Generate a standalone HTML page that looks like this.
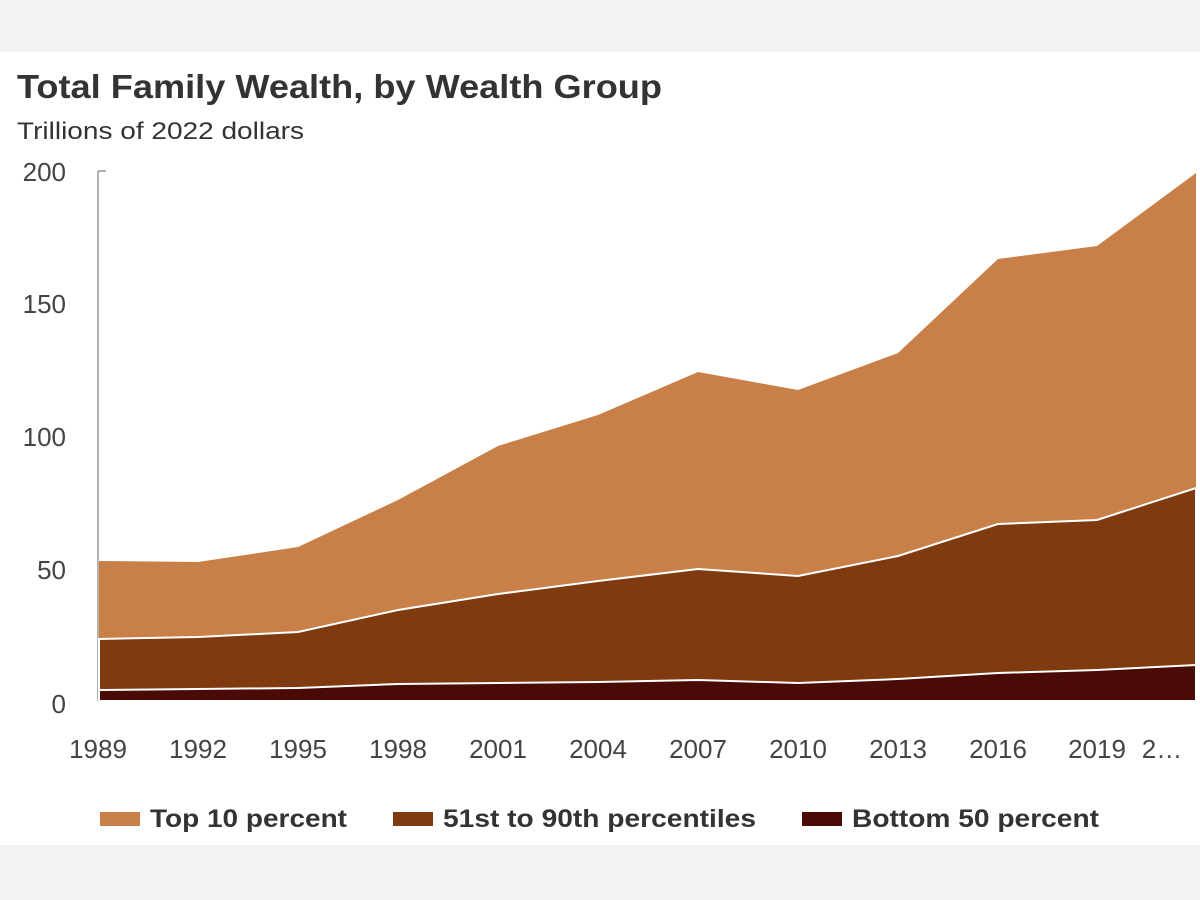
<!DOCTYPE html>
<html><head><meta charset="utf-8"><style>
html,body{margin:0;padding:0;background:#f2f2f2;}
svg{display:block;}
</style></head><body>
<svg width="1200" height="900" viewBox="0 0 1200 900" xmlns="http://www.w3.org/2000/svg" font-family="Liberation Sans, Arial, sans-serif">
<rect x="0" y="0" width="1200" height="900" fill="#f2f2f2"/>
<rect x="0" y="52" width="1200" height="793" fill="#ffffff"/>
<text x="17" y="98" font-size="33" font-weight="bold" fill="#333" textLength="645" lengthAdjust="spacingAndGlyphs">Total Family Wealth, by Wealth Group</text>
<text x="17" y="139" font-size="24" fill="#333" textLength="287" lengthAdjust="spacingAndGlyphs">Trillions of 2022 dollars</text>
<g font-size="26" fill="#444" text-anchor="end">
<text x="66" y="181">200</text>
<text x="66" y="313">150</text>
<text x="66" y="446">100</text>
<text x="66" y="579">50</text>
<text x="66" y="713">0</text>
</g>
<line x1="98" y1="171" x2="98" y2="701" stroke="#999" stroke-width="1.5"/>
<line x1="98" y1="171" x2="106" y2="171" stroke="#999" stroke-width="1.5"/>
<polygon fill="#c97f48" points="99,561 198,562 298,547 398,500 498,446 598,415 698,372 798,390 898,353 998,259 1097,246 1196,173 1196,701 99,701"/>
<polygon fill="#7f3a10" stroke="#fff" stroke-width="2" points="99,639 198,637 298,632 398,610 498,594 598,581 698,569 798,576 898,556 998,524 1097,520 1196,488 1196,701 99,701"/>
<polygon fill="#4a0a05" stroke="#fff" stroke-width="2" points="99,690 198,689 298,688 398,684 498,683 598,682 698,680 798,683 898,679 998,673 1097,670 1196,665 1196,701 99,701"/>
<rect x="99" y="701" width="1100" height="4" fill="#fff"/>
<g font-size="26" fill="#444" text-anchor="middle">
<text x="98" y="758">1989</text>
<text x="198" y="758">1992</text>
<text x="298" y="758">1995</text>
<text x="398" y="758">1998</text>
<text x="498" y="758">2001</text>
<text x="598" y="758">2004</text>
<text x="698" y="758">2007</text>
<text x="798" y="758">2010</text>
<text x="898" y="758">2013</text>
<text x="998" y="758">2016</text>
<text x="1097" y="758">2019</text>
<text x="1162" y="758">2…</text>
</g>
<rect x="100" y="812" width="40" height="14" fill="#c97f48"/>
<text x="150" y="827" font-size="25" font-weight="bold" fill="#333" textLength="197" lengthAdjust="spacingAndGlyphs">Top 10 percent</text>
<rect x="393" y="812" width="40" height="14" fill="#7f3a10"/>
<text x="443" y="827" font-size="25" font-weight="bold" fill="#333" textLength="313" lengthAdjust="spacingAndGlyphs">51st to 90th percentiles</text>
<rect x="802" y="812" width="40" height="14" fill="#4a0a05"/>
<text x="852" y="827" font-size="25" font-weight="bold" fill="#333" textLength="247" lengthAdjust="spacingAndGlyphs">Bottom 50 percent</text>
</svg>
</body></html>
